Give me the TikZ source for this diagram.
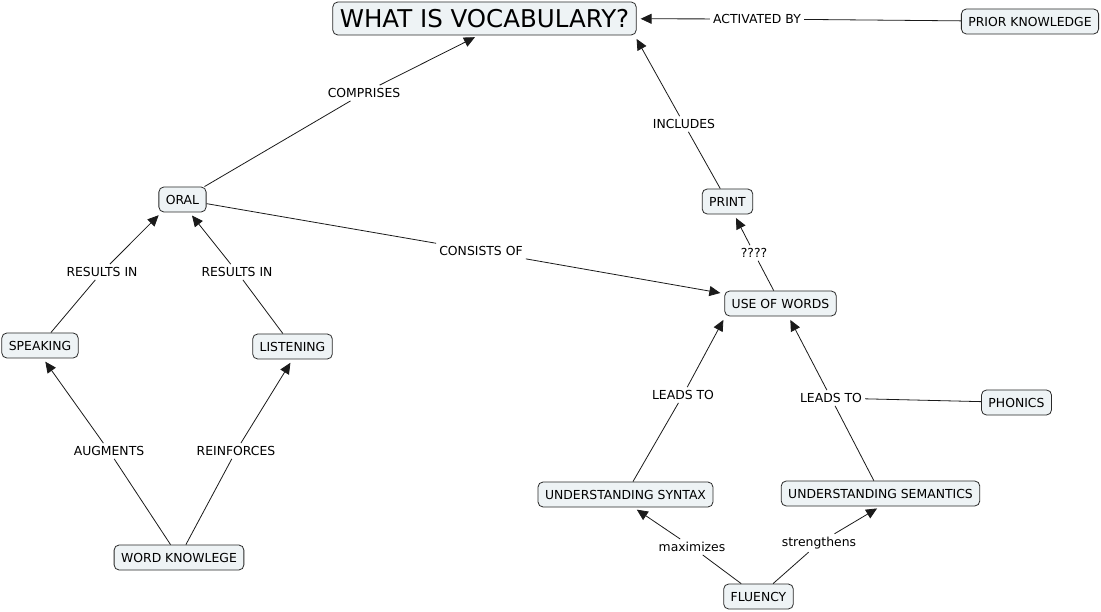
\documentclass[tikz,border=0pt]{standalone}
\usepackage{fontspec}
\setmainfont{DejaVu Sans}
\usetikzlibrary{arrows.meta}
\definecolor{nodefill}{HTML}{EEF3F5}
\definecolor{nodedraw}{HTML}{2A2A2A}
\definecolor{linecol}{HTML}{1A1A1A}
\tikzset{
  concept/.style={draw=nodedraw, fill=nodefill, rounded corners=5pt, line width=0.8pt,
    minimum height=25pt, inner xsep=7pt, inner ysep=0pt, font=\fontsize{12.4}{14}\selectfont},
  bigconcept/.style={concept, minimum height=33pt, inner xsep=7pt, font=\fontsize{24.5}{28}\selectfont},
  linklabel/.style={inner sep=3pt, font=\fontsize{12.4}{14}\selectfont},
  conn/.style={draw=linecol, line width=0.8pt},
  arr/.style={conn, -{Triangle[length=11pt,width=10pt]}, shorten >=4pt}
}
\begin{document}
\begin{tikzpicture}[x=1pt,y=-1pt]
\useasboundingbox[fill=white] (0,0) rectangle (1101,612);
% concepts
\node[bigconcept] (title) at (484.5,18.5) {WHAT IS VOCABULARY?};
\node[concept] (prior) at (1030,21.5) {PRIOR KNOWLEDGE};
\node[concept] (oral) at (182.5,199.5) {ORAL};
\node[concept] (print) at (727.5,201.5) {PRINT};
\node[concept] (use) at (780.5,303.5) {USE OF WORDS};
\node[concept] (speak) at (40,345.5) {SPEAKING};
\node[concept] (listen) at (292.5,346.5) {LISTENING};
\node[concept] (phon) at (1016.5,402.5) {PHONICS};
\node[concept] (syn) at (625.5,494.5) {UNDERSTANDING SYNTAX};
\node[concept] (sem) at (880.5,493.5) {UNDERSTANDING SEMANTICS};
\node[concept] (wk) at (179,557.5) {WORD KNOWLEGE};
\node[concept] (flu) at (758.5,596.5) {FLUENCY};
% link labels
\node[linklabel] (lact) at (757,19) {ACTIVATED BY};
\node[linklabel] (lcomp) at (364,93) {COMPRISES};
\node[linklabel] (linc) at (684,124) {INCLUDES};
\node[linklabel] (lcons) at (481,251) {CONSISTS OF};
\node[linklabel] (lq) at (754,253) {????};
\node[linklabel] (lres1) at (102,272) {RESULTS IN};
\node[linklabel] (lres2) at (237,272) {RESULTS IN};
\node[linklabel] (laug) at (109,451) {AUGMENTS};
\node[linklabel] (lrein) at (236,451) {REINFORCES};
\node[linklabel] (llead1) at (683,395) {LEADS TO};
\node[linklabel] (llead2) at (831,398) {LEADS TO};
\node[linklabel] (lmax) at (692,547) {maximizes};
\node[linklabel] (lstr) at (819,543) {strengthens};
% arrow target points
\coordinate (tcomp) at ([xshift=-6pt]title.south);
\coordinate (tinc) at ([xshift=-2pt]title.south east);
\coordinate (tor1) at ([xshift=3pt]oral.south west);
\coordinate (tor2) at ([xshift=7pt]oral.south);
\coordinate (tsp) at ([xshift=3pt]speak.south);
\coordinate (tuse1) at ([xshift=1pt]use.south west);
\coordinate (tuse2) at ([xshift=8pt]use.south);
\coordinate (tsyn) at ([xshift=8pt]syn.south);
% connectors
\draw[conn] (prior) -- (lact); \draw[arr] (lact) -- (title);
\draw[conn] (oral) -- (lcomp); \draw[arr] (lcomp) -- (tcomp);
\draw[conn] (print) -- (linc); \draw[arr] (linc) -- (tinc);
\draw[conn] (oral) -- (lcons); \draw[arr] (lcons) -- (use);
\draw[conn] (use) -- (lq); \draw[arr] (lq) -- (print);
\draw[conn] (speak) -- (lres1); \draw[arr] (lres1) -- (tor1);
\draw[conn] (listen) -- (lres2); \draw[arr] (lres2) -- (tor2);
\draw[conn] (wk) -- (laug); \draw[arr] (laug) -- (tsp);
\draw[conn] (wk) -- (lrein); \draw[arr] (lrein) -- (listen.south);
\draw[conn] (syn) -- (llead1); \draw[arr] (llead1) -- (tuse1);
\draw[conn] (sem) -- (llead2); \draw[arr] (llead2) -- (tuse2);
\draw[conn] (phon) -- (llead2);
\draw[conn] (flu) -- (lmax); \draw[arr] (lmax) -- (tsyn);
\draw[conn] (flu) -- (lstr); \draw[arr] (lstr) -- (sem.south);
\end{tikzpicture}
\end{document}
